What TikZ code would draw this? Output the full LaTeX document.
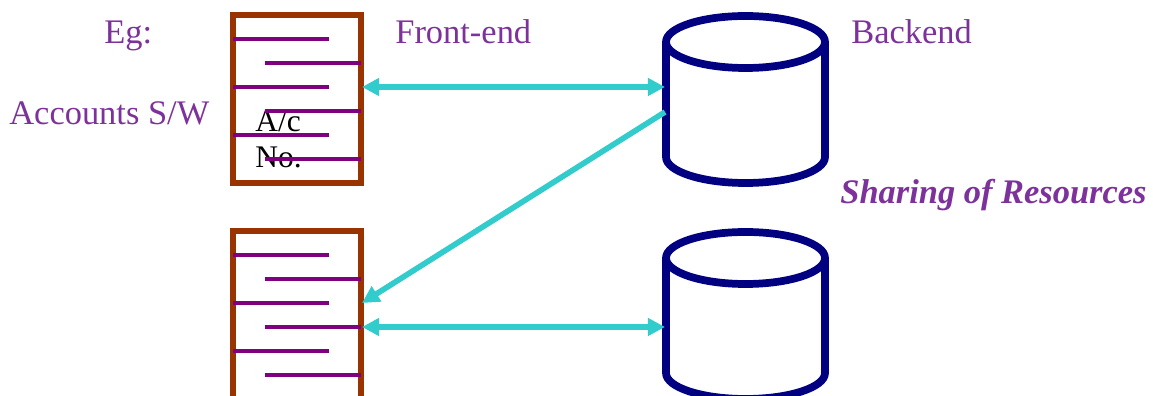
\documentclass[tikz,border=0pt]{standalone}
\usepackage{fontspec}
\setmainfont{Liberation Serif}
\usetikzlibrary{arrows.meta}
\definecolor{labelpurple}{RGB}{125,50,155}
\definecolor{rulepurple}{RGB}{128,0,128}
\definecolor{formbrown}{RGB}{153,51,0}
\definecolor{linkcyan}{RGB}{51,204,204}
\definecolor{drumnavy}{RGB}{0,0,128}
\tikzset{
	formbox/.style={draw=formbrown, line width=3.4pt, minimum width=2.56cm, minimum height=3.36cm, outer sep=0pt, inner sep=0pt},
	drum/.style={minimum width=3.18cm, minimum height=3.34cm, outer sep=0pt, inner sep=0pt},
	drumline/.style={draw=drumnavy, line width=4.4pt},
	formrule/.style={draw=rulepurple, line width=2.2pt},
	link/.style={draw=linkcyan, line width=3.2pt, >={Triangle[length=9.8pt, width=9.8pt]}},
	label/.style={text=labelpurple, font=\fontsize{19.6}{23}\selectfont, inner sep=0pt, anchor=base west}
}
\begin{document}
\begin{tikzpicture}
	\useasboundingbox (0, 0) rectangle (23.06, -7.92);
	\clip (0, 0) rectangle (23.06, -7.92);

	% upper row
	\node[formbox] (formA) at (5.94, -1.98) {};
	\node[drum] (dbA) at (14.91, -1.99) {};
	% lower row
	\node[formbox] (formB) at (5.94, -6.3) {};
	\node[drum] (dbB) at (14.91, -6.31) {};

	\foreach \drumname in {dbA, dbB} {
		\draw[drumline] ([yshift=-0.52cm]\drumname.north) ellipse [x radius=1.59, y radius=0.52];
		\draw[drumline] ([yshift=-0.52cm]\drumname.north west) -- ([yshift=0.52cm]\drumname.south west)
			arc [start angle=180, end angle=360, x radius=1.59, y radius=0.52] -- ([yshift=-0.52cm]\drumname.north east);
	}

	\node[anchor=base west, inner sep=0pt, align=left, font=\fontsize{17.9}{21}\selectfont] (acno) at (5.1, -3.36) {A/c\\No.};

	\foreach \form in {formA, formB} {
		\foreach \y in {0.48, 1.44, 2.4} {
			\draw[formrule] ([yshift=-\y cm]\form.north west) -- ++(1.92, 0);
			\draw[formrule] ([yshift=-\y cm - 0.48cm, xshift=0.64cm]\form.north west) -- ++(1.92, 0);
		}
	}

	\draw[link, <->] ([yshift=0.24cm, xshift=0.02cm]formA.east) -- ([yshift=0.25cm, xshift=-0.02cm]dbA.west);
	\draw[link, ->] ([yshift=-0.25cm, xshift=-0.02cm]dbA.west) -- ([yshift=0.24cm, xshift=0.02cm]formB.east);
	\draw[link, <->] ([yshift=-0.24cm, xshift=0.02cm]formB.east) -- ([yshift=-0.23cm, xshift=-0.02cm]dbB.west);

	\node[label] (eg) at (2.08, -0.88) {Eg:};
	\node[label] (accounts) at (0.18, -2.5) {Accounts S/W};
	\node[label] (frontend) at (7.9, -0.88) {Front-end};
	\node[label] (backend) at (17.02, -0.88) {Backend};
	\node[label, font=\fontsize{19.6}{23}\selectfont\bfseries\itshape] (sharing) at (16.8, -4.08) {Sharing of Resources};
\end{tikzpicture}
\end{document}
